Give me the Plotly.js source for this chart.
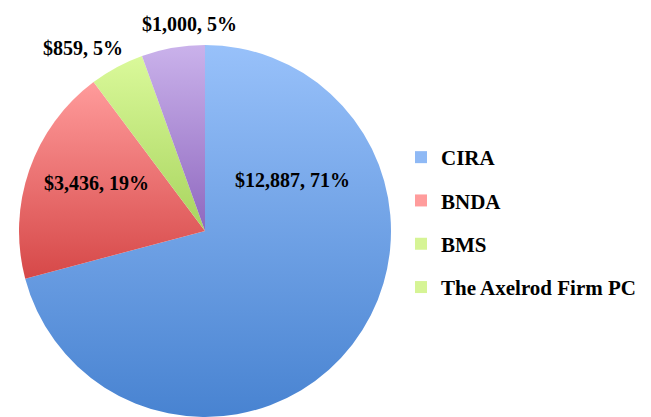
<!DOCTYPE html>
<html>
<head>
<meta charset="utf-8">
<script src="https://cdn.plot.ly/plotly-3.0.1.min.js"></script>
<style>html,body{margin:0;padding:0;background:#fff;}#chart{width:651px;height:417px;}</style>
</head>
<body>
<div id="chart"></div>
<script>
var categories = ["CIRA", "BNDA", "BMS", "The Axelrod Firm PC"];
var amounts = [12887, 3436, 859, 1000];
var sliceLabels = ["$12,887, 71%", "$3,436, 19%", "$859, 5%", "$1,000, 5%"];
var sliceColors = ["#76A4E8", "#EC7878", "#C9EC84", "#B69CDD"];
var gradTop = ["#98C1FA", "#FF9B9B", "#DAF99A", "#CAB2EB"];
var gradBottom = ["#4883D1", "#D64848", "#A8D45E", "#8F68BF"];
var legendColors = ["#8FB9F5", "#FF9C9C", "#D6F495", "#D6F495"];

var W = 651, H = 417;
var FONT = "Liberation Serif, Times New Roman, serif";

var traces = [{
  type: "pie",
  labels: categories,
  values: amounts,
  sort: false,
  direction: "clockwise",
  rotation: 0,
  textinfo: "none",
  hoverinfo: "label+value+percent",
  marker: {colors: sliceColors, line: {width: 0}},
  domain: {x: [19 / W, 391 / W], y: [0, 372 / H]},
  showlegend: false
}];

categories.forEach(function (c, i) {
  traces.push({
    type: "scatter", mode: "markers", x: [null], y: [null],
    name: c, legendgroup: "g" + i,
    marker: {symbol: "square", size: 12, color: legendColors[i]},
    hoverinfo: "skip"
  });
});

var labelPos = [[292, 180], [96, 183], [83, 48], [189, 24]];
var annotations = sliceLabels.map(function (t, i) {
  return {
    text: "<b>" + t + "</b>", showarrow: false,
    xref: "paper", yref: "paper",
    x: labelPos[i][0] / W, y: 1 - labelPos[i][1] / H,
    xanchor: "center", yanchor: "middle",
    font: {family: FONT, size: 20, color: "#000"}
  };
});

var layout = {
  width: W, height: H,
  margin: {l: 0, r: 0, t: 0, b: 0},
  paper_bgcolor: "#fff", plot_bgcolor: "rgba(0,0,0,0)",
  xaxis: {visible: false, range: [0, 1]},
  yaxis: {visible: false, range: [0, 1]},
  showlegend: true,
  legend: {
    x: 401 / W, y: 1 - 137 / H, xanchor: "left", yanchor: "top",
    font: {family: FONT, size: 21, color: "#000", weight: "bold"},
    traceorder: "grouped", tracegroupgap: 13,
    bgcolor: "rgba(0,0,0,0)"
  },
  annotations: annotations
};

Plotly.newPlot("chart", traces, layout, {displayModeBar: false, staticPlot: true}).then(function (gd) {
  var svg = gd.querySelector("svg.main-svg");
  var ns = "http://www.w3.org/2000/svg";
  var defs = document.createElementNS(ns, "defs");
  gradTop.forEach(function (top, i) {
    var lg = document.createElementNS(ns, "linearGradient");
    lg.setAttribute("id", "sliceGrad" + i);
    lg.setAttribute("x1", "0"); lg.setAttribute("y1", "0");
    lg.setAttribute("x2", "0"); lg.setAttribute("y2", "1");
    [[0, top], [1, gradBottom[i]]].forEach(function (s) {
      var st = document.createElementNS(ns, "stop");
      st.setAttribute("offset", s[0]);
      st.setAttribute("stop-color", s[1]);
      lg.appendChild(st);
    });
    defs.appendChild(lg);
  });
  svg.insertBefore(defs, svg.firstChild);
  var paths = gd.querySelectorAll(".pielayer .slice path.surface");
  paths.forEach(function (p, i) {
    p.style.setProperty("fill", "url(#sliceGrad" + i + ")");
  });
});
</script>
</body>
</html>
